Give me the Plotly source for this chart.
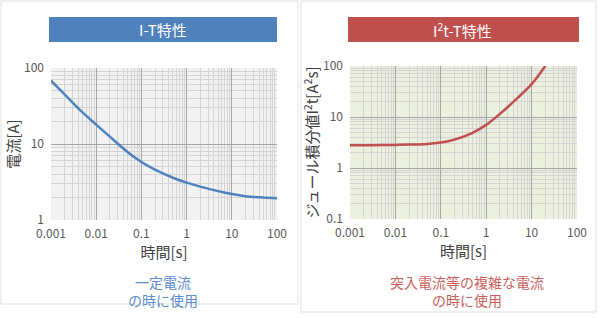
import plotly.graph_objects as go

# I-T characteristic (left)
t_it = [0.001, 0.002, 0.005, 0.01, 0.02, 0.05, 0.1, 0.2, 0.5, 1, 2, 5, 10, 20, 50, 100]
i_it = [68, 45, 26, 18, 12.5, 7.8, 5.8, 4.6, 3.6, 3.1, 2.75, 2.4, 2.2, 2.06, 1.97, 1.94]

# I2t-T characteristic (right)
t_i2t = [0.001, 0.002, 0.005, 0.01, 0.02, 0.05, 0.1, 0.2, 0.5, 1, 2, 5, 10, 20]
v_i2t = [2.8, 2.8, 2.82, 2.84, 2.88, 2.97, 3.15, 3.6, 4.9, 7.0, 11.5, 24, 44, 100]

x_tickvals = [0.001, 0.01, 0.1, 1, 10, 100]
x_ticktext = ["0.001", "0.01", "0.1", "1", "10", "100"]
y1_tickvals = [1, 10, 100]
y1_ticktext = ["1", "10", "100"]
y2_tickvals = [0.1, 1, 10, 100]
y2_ticktext = ["0.1", "1", "10", "100"]

FONT = "Noto Sans CJK JP"
BLUE = "#4f81bd"
RED = "#c0504d"

fig = go.Figure()
fig.add_trace(go.Scatter(x=t_it, y=i_it, mode="lines", line=dict(color=BLUE, width=2.5, shape="spline"),
                         xaxis="x", yaxis="y", showlegend=False, hoverinfo="skip"))
fig.add_trace(go.Scatter(x=t_i2t, y=v_i2t, mode="lines", line=dict(color=RED, width=2.5, shape="spline"),
                         xaxis="x2", yaxis="y2", showlegend=False, hoverinfo="skip"))

W, H = 600, 318
def px(x):
    return x / W
def py(y):
    return 1 - y / H

major = "#a6a6a6"
minor = "#d4d4d4"
tickfont = dict(family=FONT, size=12, color="#595959")
titlefont = dict(family=FONT, size=15, color="#404040")

def xax(domain, anchor):
    return dict(type="log", domain=domain, anchor=anchor, range=[-3, 2], automargin=False,
                tickmode="array", tickvals=x_tickvals, ticktext=x_ticktext,
                showgrid=True, gridcolor=major, gridwidth=1, zeroline=False,
                showline=False, ticks="", tickfont=tickfont, ticklabelstandoff=5,
                minor=dict(dtick="D1", showgrid=True, gridcolor=minor, gridwidth=1, ticks=""),
                title=dict(text="時間[s]", font=titlefont, standoff=3))

def yax(domain, anchor, rng, vals, text, title, tsize):
    return dict(type="log", domain=domain, anchor=anchor, range=rng, automargin=False,
                tickmode="array", tickvals=vals, ticktext=text,
                showgrid=True, gridcolor=major, zeroline=False, showline=False, ticks="",
                tickfont=tickfont, ticklabelstandoff=6,
                minor=dict(dtick="D1", showgrid=True, gridcolor=minor, ticks=""),
                title=dict(text=title, font=dict(family=FONT, size=tsize, color="#404040"), standoff=0))

fig.update_layout(
    width=W, height=H, margin=dict(l=0, r=0, t=0, b=0, autoexpand=False),
    paper_bgcolor="white",
    xaxis=xax([px(51), px(277)], "y"),
    xaxis2=xax([px(350), px(577)], "y2"),
    yaxis=yax([py(220), py(68)], "x", [0, 2], y1_tickvals, y1_ticktext, "電流[A]", 15),
    yaxis2=yax([py(219), py(66)], "x2", [-1, 2], y2_tickvals, y2_ticktext,
               "ジュール積分値I<sup>2</sup>t[A<sup>2</sup>s]", 15),
    plot_bgcolor="#f2f2f2",
)

shapes = [
    # panel borders
    dict(type="rect", xref="paper", yref="paper", x0=px(1), x1=px(298), y0=py(304), y1=py(1),
         line=dict(color="#e0e0e0", width=1), fillcolor="rgba(0,0,0,0)", layer="below"),
    dict(type="rect", xref="paper", yref="paper", x0=px(301), x1=px(596), y0=py(312), y1=py(1),
         line=dict(color="#e0e0e0", width=1), fillcolor="rgba(0,0,0,0)", layer="below"),
    # right plot background
    dict(type="rect", xref="x2 domain", yref="y2 domain", x0=0, x1=1, y0=0, y1=1,
         line=dict(width=0), fillcolor="#ebf1de", layer="below"),
    # title bars
    dict(type="rect", xref="paper", yref="paper", x0=px(49), x1=px(277), y0=py(42), y1=py(17),
         line=dict(width=0), fillcolor=BLUE, layer="below"),
    dict(type="rect", xref="paper", yref="paper", x0=px(348), x1=px(579), y0=py(42), y1=py(17),
         line=dict(width=0), fillcolor=RED, layer="below"),
]
fig.update_layout(shapes=shapes)

annotations = [
    dict(text="I-T特性", x=px(163), y=py(30), xref="paper", yref="paper", showarrow=False,
         xanchor="center", yanchor="middle", font=dict(family=FONT, size=15, color="white")),
    dict(text="I<sup>2</sup>t-T特性", x=px(463), y=py(30), xref="paper", yref="paper", showarrow=False,
         xanchor="center", yanchor="middle", font=dict(family=FONT, size=15, color="white")),
    dict(text="一定電流<br>の時に使用", x=px(163), y=py(291), xref="paper", yref="paper", showarrow=False,
         xanchor="center", yanchor="middle", font=dict(family=FONT, size=14, color="#5b8ccb")),
    dict(text="突入電流等の複雑な電流<br>の時に使用", x=px(467), y=py(291), xref="paper", yref="paper",
         showarrow=False, xanchor="center", yanchor="middle", font=dict(family=FONT, size=14, color="#c95f5c")),
]
fig.update_layout(annotations=annotations)

fig.write_html("out.html")
